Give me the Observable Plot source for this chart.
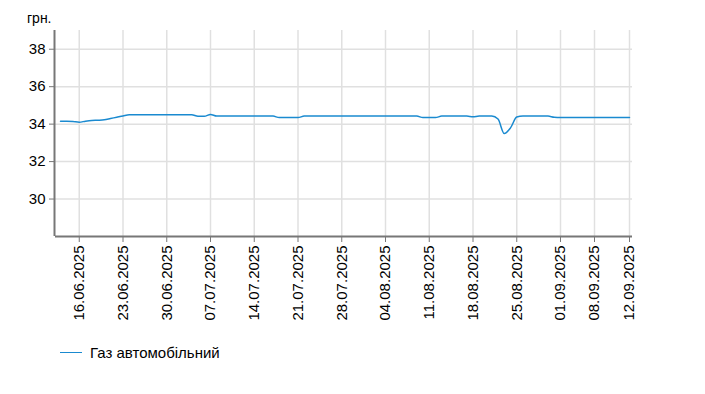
<!DOCTYPE html>
<html>
<head>
<meta charset="utf-8">
<script src="https://cdn.jsdelivr.net/npm/d3@7"></script>
<script src="https://cdn.jsdelivr.net/npm/@observablehq/plot@0.6"></script>
<style>
  body { margin: 0; background: #fff; font-family: "Liberation Sans", Arial, sans-serif; }
  #wrap { position: relative; width: 705px; height: 394px; }
  #unit { position: absolute; left: 27px; top: 10px; font-size: 14px; color: #000; }
  #legend { display: flex; align-items: center; margin-left: 60px; margin-top: 9px; font-size: 15px; color: #000; }
  #legend .sw { width: 22px; height: 0; border-top: 1.5px solid #1a8ad0; margin-right: 8px; }
</style>
</head>
<body>
<div id="wrap">
  <div id="chart"></div>
  <div id="unit">грн.</div>
  <div id="legend"><span class="sw"></span><span>Газ автомобільний</span></div>
</div>
<script>
// Series name
const seriesName = "Газ автомобільний";
// First and last date of the daily series
const startDate = "13.06.2025";
const endDate = "12.09.2025";
// Daily prices, 13.06.2025 .. 12.09.2025 (грн.)
const prices = [
  34.16, 34.16, 34.14, 34.10, 34.16, 34.20, 34.21, 34.23, 34.30, 34.37, // 13.06-22.06
  34.44, 34.50, 34.50, 34.50, 34.50, 34.50, 34.50, 34.50, 34.50, 34.50, // 23.06-02.07
  34.50, 34.50, 34.42, 34.42, 34.52, 34.43, 34.43, 34.43, 34.43, 34.43, // 03.07-12.07
  34.43, 34.43, 34.43, 34.43, 34.43, 34.35, 34.35, 34.35, 34.35, 34.43, // 13.07-22.07
  34.43, 34.43, 34.43, 34.43, 34.43, 34.43, 34.43, 34.43, 34.43, 34.43, // 23.07-01.08
  34.43, 34.43, 34.43, 34.43, 34.43, 34.43, 34.43, 34.43, 34.35, 34.35, // 02.08-11.08
  34.35, 34.43, 34.43, 34.43, 34.43, 34.43, 34.39, 34.43, 34.43, 34.43, // 12.08-21.08
  34.27, 33.50, 33.80, 34.38, 34.43, 34.43, 34.43, 34.43, 34.43, 34.37, // 22.08-31.08
  34.36, 34.36, 34.36, 34.36, 34.36, 34.36, 34.36, 34.36, 34.36, 34.36, // 01.09-10.09
  34.36, 34.36                                                          // 11.09-12.09
];
// X tick labels
const xTickLabels = ["16.06.2025","23.06.2025","30.06.2025","07.07.2025","14.07.2025","21.07.2025",
  "28.07.2025","04.08.2025","11.08.2025","18.08.2025","25.08.2025","01.09.2025","08.09.2025","12.09.2025"];
// Y ticks
const yTicks = [30, 32, 34, 36, 38];

const parse = d3.utcParse("%d.%m.%Y");
const fmt = d3.utcFormat("%d.%m.%Y");
const days = d3.utcDay.range(parse(startDate), d3.utcDay.offset(parse(endDate), 1));
const data = days.map((d, i) => ({date: d, value: prices[i], series: seriesName}));
const xTicks = xTickLabels.map(parse);

const W = 705, H = 335;
const mL = 55, mR = 73, mT = 30, mB = 99;

const chart = Plot.plot({
  width: W, height: H,
  marginLeft: mL, marginRight: mR, marginTop: mT, marginBottom: mB,
  style: {fontFamily: "'Liberation Sans', Arial, sans-serif", fontSize: "14px", color: "#000", background: "#fff"},
  x: {type: "utc",
      domain: [parse("12.06.2025"), parse("13.06.2025"), parse("01.09.2025"), parse("08.09.2025"), parse("12.09.2025"), parse("13.09.2025")],
      range: [mL - 1, 60, 560, 594, 629, 634]},
  y: {domain: [28, 39]},
  marks: [
    Plot.gridY(yTicks, {stroke: "#e0e0e0", strokeOpacity: 1, strokeWidth: 1.5}),
    Plot.gridX(xTicks, {stroke: "#e0e0e0", strokeOpacity: 1, strokeWidth: 1.5}),
    Plot.ruleX([parse("12.06.2025")], {y1: 28, y2: 39, stroke: "#777", strokeWidth: 2}),
    Plot.ruleY([28], {stroke: "#777", strokeWidth: 2}),
    Plot.axisY(yTicks, {tickSize: 6, tickPadding: 4, stroke: "#777", label: null, fontSize: 15}),
    Plot.axisX(xTicks, {tickSize: 6, tickPadding: 3, tickRotate: -90, tickFormat: fmt, stroke: "#777", label: null, fontSize: 15}),
    Plot.line(data, {x: "date", y: "value", stroke: "#1a8ad0", strokeWidth: 1.5, curve: "monotone-x"})
  ]
});
document.getElementById("chart").appendChild(chart);
</script>
</body>
</html>
